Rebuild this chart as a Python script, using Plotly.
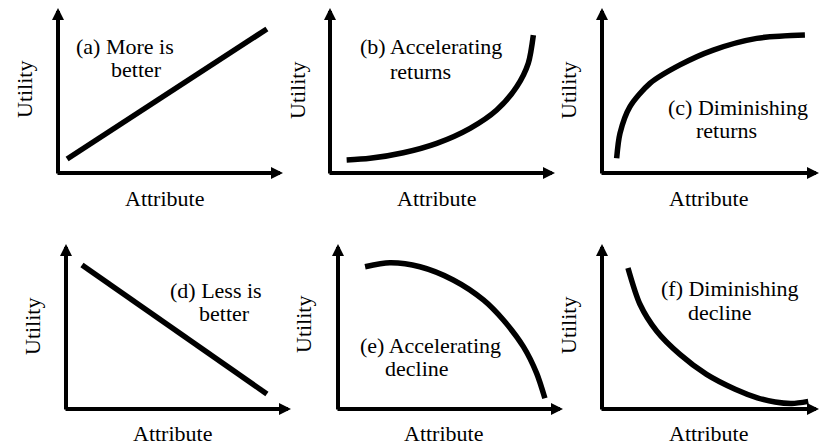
import plotly.graph_objects as go
from plotly.subplots import make_subplots

W, H = 819, 445
UNIT_W, UNIT_H = 222, 165   # px per axis unit
ARROW_W = 225               # length of the x arrow, px

# curves, in axis units
a_x = [0.041, 0.941]
a_y = [0.085, 0.873]

b_x = [0.075, 0.180, 0.330, 0.481, 0.631, 0.751, 0.841, 0.893, 0.916]
b_y = [0.079, 0.089, 0.123, 0.180, 0.271, 0.382, 0.523, 0.665, 0.836]

c_x = [0.066, 0.081, 0.126, 0.216, 0.351, 0.501, 0.697, 0.914]
c_y = [0.089, 0.240, 0.402, 0.543, 0.655, 0.745, 0.816, 0.836]

d_x = [0.072, 0.905]
d_y = [0.873, 0.091]

e_x = [0.122, 0.234, 0.369, 0.519, 0.655, 0.745, 0.835, 0.895, 0.932]
e_y = [0.862, 0.886, 0.862, 0.782, 0.661, 0.539, 0.378, 0.216, 0.065]

f_x = [0.117, 0.171, 0.246, 0.351, 0.471, 0.600, 0.700, 0.780, 0.855, 0.929]
f_y = [0.855, 0.635, 0.473, 0.331, 0.210, 0.120, 0.068, 0.042, 0.033, 0.046]

labels = [
    ["(a) More is", "better"],
    ["(b) Accelerating", "returns"],
    ["(c) Diminishing", "returns"],
    ["(d) Less is", "better"],
    ["(e) Accelerating", "decline"],
    ["(f) Diminishing", "decline"],
]
x_title = "Attribute"
y_title = "Utility"

# layout of the six panels (pixel positions)
origins = [(58, 173), (330, 173), (602, 173), (66, 409), (338, 409), (602, 409)]
label_pos = [
    [(125, 47), (136, 70)],
    [(431, 47), (421, 71)],
    [(738, 107), (726, 130)],
    [(216, 290), (224, 313)],
    [(430, 345), (417, 368)],
    [(730, 288), (720, 312)],
]
ytitle_pos = [(24, 90), (297, 91), (568, 91), (32, 327), (303, 325), (568, 326)]
xtitle_pos = [(164, 198), (436, 198), (708, 198), (172, 433), (443, 433), (708, 433)]

curves = [(a_x, a_y), (b_x, b_y), (c_x, c_y), (d_x, d_y), (e_x, e_y), (f_x, f_y)]

FONT = dict(family="Liberation Serif, Times New Roman, serif", size=22, color="black")
ARROW = dict(text="", showarrow=True, arrowhead=2, arrowsize=0.6, arrowwidth=4, arrowcolor="black")

fig = make_subplots(rows=2, cols=3)

for i, (cx, cy) in enumerate(curves):
    r, c = divmod(i, 3)
    fig.add_trace(go.Scatter(x=cx, y=cy, mode="lines",
                             line=dict(color="black", width=5.5, shape="spline", smoothing=0.8),
                             hoverinfo="skip", showlegend=False),
                  row=r + 1, col=c + 1)

    ox, oy = origins[i]
    x1 = min(ox + ARROW_W, W)
    xmax = (x1 - ox) / UNIT_W
    n = "" if i == 0 else str(i + 1)
    fig.layout["xaxis" + n].update(domain=[ox / W, x1 / W], range=[0, xmax], visible=False)
    fig.layout["yaxis" + n].update(domain=[1 - oy / H, 1 - (oy - UNIT_H) / H], range=[0, 1], visible=False)

    # axis arrows
    ref = dict(xref="x" + n, yref="y" + n, axref="x" + n, ayref="y" + n)
    fig.add_annotation(x=xmax, y=0, ax=-2 / UNIT_W, ay=0, **ref, **ARROW)
    fig.add_annotation(x=0, y=1, ax=0, ay=-2 / UNIT_H, **ref, **ARROW)

    # texts
    for txt, (px, py) in zip(labels[i], label_pos[i]):
        fig.add_annotation(x=px / W, y=1 - py / H, xref="paper", yref="paper", text=txt,
                           showarrow=False, xanchor="center", yanchor="middle", font=FONT)
    px, py = xtitle_pos[i]
    fig.add_annotation(x=px / W, y=1 - py / H, xref="paper", yref="paper", text=x_title,
                       showarrow=False, xanchor="center", yanchor="middle", font=FONT)
    px, py = ytitle_pos[i]
    fig.add_annotation(x=px / W, y=1 - py / H, xref="paper", yref="paper", text=y_title,
                       textangle=-90, showarrow=False, xanchor="center", yanchor="middle", font=FONT)

fig.update_layout(width=W, height=H, margin=dict(l=0, r=0, t=0, b=0),
                  paper_bgcolor="white", plot_bgcolor="white")

# the page's default 8px body margin would push the figure off the window
fig.write_html("out.html", config={"displayModeBar": False},
               post_script="document.body.style.margin='0';")
